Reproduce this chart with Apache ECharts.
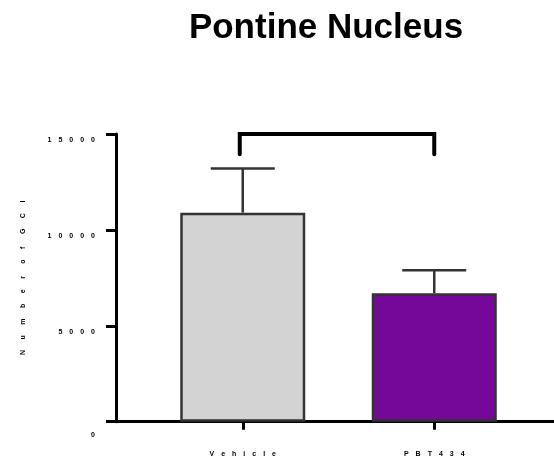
<!DOCTYPE html>
<html><head><meta charset="utf-8">
<script src="https://cdn.jsdelivr.net/npm/echarts@6/dist/echarts.min.js"></script>
<style>html,body{margin:0;padding:0;background:#fff}#c{width:554px;height:459px}</style>
</head><body><div id="c"></div>
<script>
const categories = ['Vehicle', 'PBT434'];
const means = [10900, 6700];
const sems = [2300, 1200];
const barColors = ['#d3d3d3', '#750899'];
const yTicks = [0, 5000, 10000, 15000];
const bracketTop = 15000;
const bracketLeg = 13950;
const titleText = 'Pontine Nucleus';
const yAxisName = 'Number of GCI';

const SP = '\u2003';
function spaced(s, sp) {
  sp = sp || SP;
  return String(s).split(' ').map(w => w.split('').join(sp)).join(sp + ' ');
}

const chart = echarts.init(document.getElementById('c'), null, {renderer: 'canvas'});
const font = 'Arial, "Liberation Sans", sans-serif';
const gTop = 134, gBottom = 459 - 421.7;

chart.setOption({
  animation: false,
  title: {text: titleText, left: 321, textAlign: 'center', top: 6,
    textStyle: {fontFamily: font, fontWeight: 'bold', fontSize: 35, color: '#000'}},
  grid: [
    {left: 116, right: 0, top: gTop, bottom: gBottom},
    {left: 147, width: 383, top: gTop, bottom: gBottom}
  ],
  xAxis: [
    {gridIndex: 0, type: 'value', min: 0, max: 1, axisLine: {show: true, lineStyle: {color: '#000', width: 3}},
     axisTick: {show: false}, axisLabel: {show: false}, splitLine: {show: false}},
    {gridIndex: 1, type: 'category', data: categories, axisLine: {show: false},
     axisTick: {show: true, alignWithLabel: true, length: 8, lineStyle: {color: '#000', width: 3}},
     axisLabel: {margin: 29, fontFamily: font, fontWeight: 'bold', fontSize: 7, color: '#000',
       formatter: v => spaced(v)}}
  ],
  yAxis: [
    {gridIndex: 0, type: 'value', min: yTicks[0], max: yTicks[yTicks.length - 1], interval: yTicks[1] - yTicks[0],
     name: spaced(yAxisName, '\u2003\u2002'), nameLocation: 'middle', nameGap: 89,
     nameTextStyle: {fontFamily: font, fontWeight: 'bold', fontSize: 7, color: '#000'},
     axisLine: {show: true, lineStyle: {color: '#000', width: 3}},
     axisTick: {show: true, length: 10, lineStyle: {color: '#000', width: 3}},
     splitLine: {show: false},
     axisLabel: {margin: 21, fontFamily: font, fontWeight: 'bold', fontSize: 7, color: '#000',
       formatter: v => v === 0 ? '{z|0}' : '{n|' + spaced(v) + '}',
       rich: {z: {padding: [26, 0, 0, 0], fontFamily: font, fontWeight: 'bold', fontSize: 7, color: '#000'},
              n: {padding: [12, 0, 0, 0], fontFamily: font, fontWeight: 'bold', fontSize: 7, color: '#000'}}}},
    {gridIndex: 1, type: 'value', min: yTicks[0], max: yTicks[yTicks.length - 1], show: false}
  ],
  series: [
    {type: 'bar', xAxisIndex: 1, yAxisIndex: 1, barWidth: 125, z: 2,
     data: means.map((m, i) => ({value: m, itemStyle: {color: barColors[i], borderColor: '#333', borderWidth: 2.5}}))},
    {type: 'custom', xAxisIndex: 1, yAxisIndex: 1, z: 3,
     data: means.map((m, i) => [i, m, m + sems[i]]),
     renderItem: function (params, api) {
       const base = api.coord([api.value(0), api.value(1)]);
       const top = api.coord([api.value(0), api.value(2)]);
       const hw = 32;
       return {type: 'group', children: [
         {type: 'line', shape: {x1: base[0], y1: base[1], x2: top[0], y2: top[1]}, style: {stroke: '#333', lineWidth: 2.5}},
         {type: 'line', shape: {x1: top[0] - hw, y1: top[1], x2: top[0] + hw, y2: top[1]}, style: {stroke: '#333', lineWidth: 2.5}}
       ]};
     }},
    {type: 'custom', xAxisIndex: 1, yAxisIndex: 1, z: 4, clip: false,
     data: [[0, 1, bracketLeg, bracketTop]],
     renderItem: function (params, api) {
       const a = api.coord([api.value(0), api.value(2)]);
       const b = api.coord([api.value(0), api.value(3)]);
       const c = api.coord([api.value(1), api.value(3)]);
       const d = api.coord([api.value(1), api.value(2)]);
       return {type: 'polyline', shape: {points: [[a[0] - 3, a[1]], [b[0] - 3, b[1]], [c[0], c[1]], [d[0], d[1]]]},
         style: {stroke: '#000', lineWidth: 4, fill: null, lineCap: 'round', lineJoin: 'miter'}};
     }}
  ]
});
</script></body></html>
